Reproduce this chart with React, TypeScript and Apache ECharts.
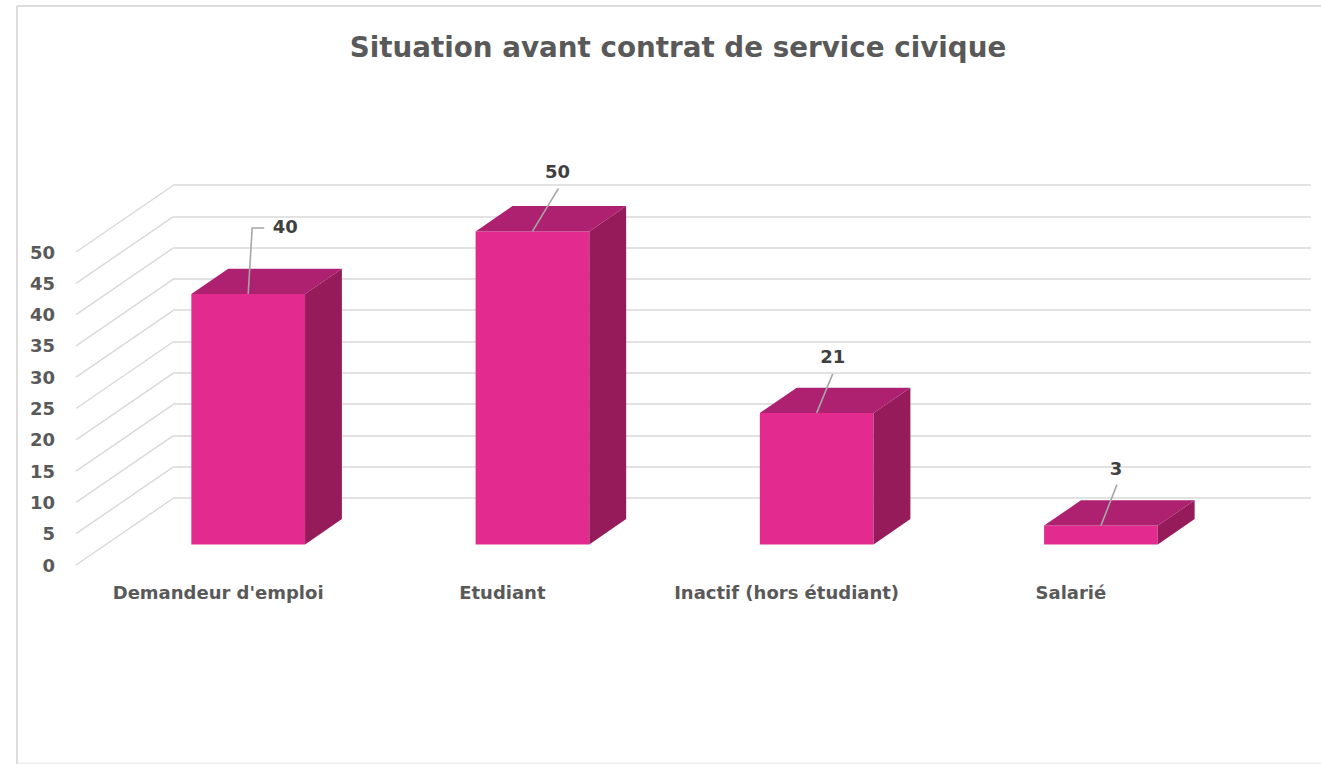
import React, { useEffect, useRef } from "react";
import * as echarts from "echarts";

const titleText = "Situation avant contrat de service civique";
const categories = ["Demandeur d'emploi", "Etudiant", "Inactif (hors étudiant)", "Salarié"];
const values = [40, 50, 21, 3];
const yTicks = [0, 5, 10, 15, 20, 25, 30, 35, 40, 45, 50];

// Leader line bends and label anchors, relative to the middle of each bar's front top edge
const leaders: number[][][] = [
  [[4, -66], [16, -66]],
  [[26, -43]],
  [[16, -39]],
  [[16, -41]],
];
const labelOffsets: number[][] = [
  [37, -67],
  [25, -60],
  [16, -56],
  [15, -57],
];

const DEPTH_X = 97;
const DEPTH_Y = 66.5;
const FONT = "'DejaVu Sans', sans-serif";
const TEXT = "#595959";
const GRID = "#d9d9d9";

const project = (p: number[], d: number) => [p[0] + d * DEPTH_X, p[1] - d * DEPTH_Y];

export default function App() {
  const ref = useRef<HTMLDivElement>(null);
  useEffect(() => {
    const chart = echarts.init(ref.current!, undefined, { renderer: "svg" });
    chart.setOption({
      animation: false,
      backgroundColor: "#ffffff",
      title: {
        text: titleText,
        left: 673,
        top: 28,
        textAlign: "center",
        textStyle: { fontFamily: FONT, fontSize: 27.75, fontWeight: "bold", color: TEXT },
      },
      graphic: [
        { type: "line", shape: { x1: 17, y1: 6, x2: 1321, y2: 6 }, style: { stroke: "#dcdcdc", lineWidth: 2 } },
        { type: "line", shape: { x1: 17, y1: 6, x2: 17, y2: 764 }, style: { stroke: "#dcdcdc", lineWidth: 2 } },
        { type: "line", shape: { x1: 17, y1: 763, x2: 1321, y2: 763 }, style: { stroke: "#e4e4e4", lineWidth: 1 } },
      ],
      grid: [
        { left: 76, top: 252, width: 1137, height: 313, containLabel: false },
        { left: 173, top: 185, width: 1138, height: 313, containLabel: false },
      ],
      xAxis: [
        {
          gridIndex: 0,
          type: "category",
          data: categories,
          axisLine: { show: false },
          axisTick: { show: false },
          axisLabel: { margin: 18, interval: 0, fontFamily: FONT, fontSize: 18, fontWeight: "bold", color: TEXT },
        },
        { gridIndex: 1, type: "value", min: 0, max: 1, show: false },
      ],
      yAxis: [
        {
          gridIndex: 0,
          type: "value",
          min: 0,
          max: 50,
          interval: 5,
          axisLine: { show: false },
          axisTick: { show: false },
          splitLine: { show: false },
          axisLabel: { margin: 21, fontFamily: FONT, fontSize: 18, fontWeight: "bold", color: TEXT },
        },
        {
          gridIndex: 1,
          type: "value",
          min: 0,
          max: 50,
          interval: 5,
          axisLine: { show: false },
          axisTick: { show: false },
          axisLabel: { show: false },
          splitLine: { show: true, lineStyle: { color: GRID, width: 1.6 } },
        },
      ],
      series: [
        {
          type: "custom",
          xAxisIndex: 0,
          yAxisIndex: 0,
          coordinateSystem: "cartesian2d",
          silent: true,
          z: 2,
          data: yTicks.map((t) => [0, t]),
          encode: { x: 0, y: 1 },
          renderItem: (_p: any, api: any) => {
            const band = api.size([1, 0])[0];
            const pt = api.coord([0, api.value(1)]);
            const a = [pt[0] - band / 2, pt[1]];
            const b = project(a, 1);
            return {
              type: "line",
              shape: { x1: a[0], y1: a[1], x2: b[0], y2: b[1] },
              style: { stroke: GRID, lineWidth: 1.4 },
            };
          },
        },
        {
          type: "custom",
          xAxisIndex: 0,
          yAxisIndex: 0,
          coordinateSystem: "cartesian2d",
          silent: true,
          z: 3,
          data: values.map((v, i) => [i, v]),
          encode: { x: 0, y: 1 },
          renderItem: (p: any, api: any) => {
            const i = api.value(0);
            const v = api.value(1);
            const band = api.size([1, 0])[0];
            const half = band * 0.2;
            const c0 = api.coord([i, 0]);
            const c1 = api.coord([i, v]);
            const near = 0.31;
            const far = 0.69;
            const pt = (x: number, y: number, d: number) => project([x, y], d);
            const l = c0[0] - half;
            const r = c0[0] + half;
            const fl0 = pt(l, c0[1], near);
            const fr0 = pt(r, c0[1], near);
            const fl1 = pt(l, c1[1], near);
            const fr1 = pt(r, c1[1], near);
            const bl1 = pt(l, c1[1], far);
            const br1 = pt(r, c1[1], far);
            const br0 = pt(r, c0[1], far);
            const m = pt(c0[0], c1[1], near);
            const leader = [m, ...leaders[p.dataIndex].map((o) => [m[0] + o[0], m[1] + o[1]])];
            const lo = labelOffsets[p.dataIndex];
            return {
              type: "group",
              children: [
                { type: "polygon", shape: { points: [fl0, fr0, fr1, fl1] }, style: { fill: "#E32B8F" } },
                { type: "polygon", shape: { points: [fl1, fr1, br1, bl1] }, style: { fill: "#AE2070" } },
                { type: "polygon", shape: { points: [fr0, br0, br1, fr1] }, style: { fill: "#951B5B" } },
                {
                  type: "polyline",
                  shape: { points: leader },
                  style: { fill: "none", stroke: "#a6a6a6", lineWidth: 1.6 },
                },
                {
                  type: "text",
                  style: {
                    x: m[0] + lo[0],
                    y: m[1] + lo[1],
                    text: String(v),
                    textAlign: "center",
                    textVerticalAlign: "middle",
                    font: `bold 18px ${FONT}`,
                    fill: "#404040",
                  },
                },
              ],
            };
          },
        },
      ],
    });
    return () => chart.dispose();
  }, []);
  return <div ref={ref} style={{ position: "fixed", left: 0, top: 0, width: 1321, height: 764 }} />;
}
